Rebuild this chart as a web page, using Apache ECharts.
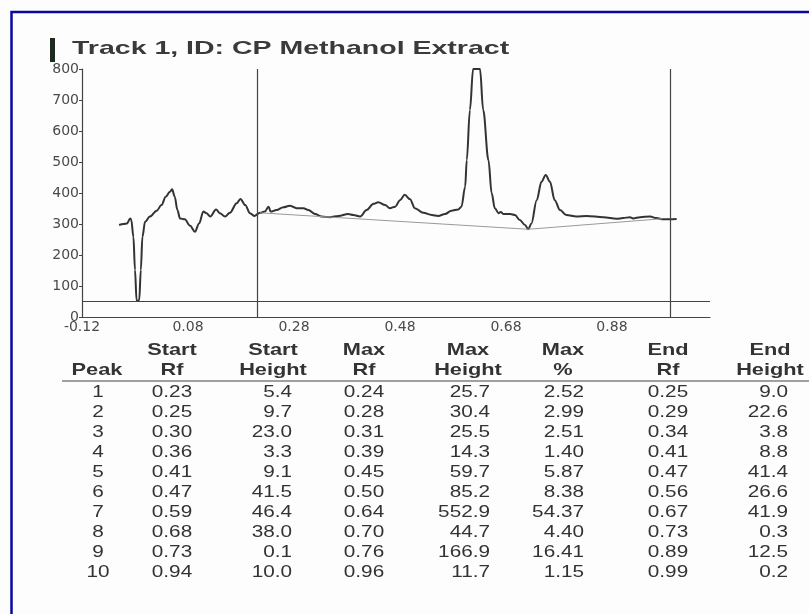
<!DOCTYPE html>
<html>
<head>
<meta charset="utf-8">
<script src="https://cdn.jsdelivr.net/npm/echarts@6/dist/echarts.min.js"></script>
<style>
  html, body { margin: 0; padding: 0; background: #fdfdfd; }
  #chart { width: 809px; height: 614px; }
</style>
</head>
<body>
<div id="chart"></div>
<script>
// densitometer trace (Rf, height)
var traceRf = [-0.050, -0.042, -0.035, -0.029, -0.027, -0.023, -0.020, -0.017, -0.015, -0.012, -0.009, -0.006, -0.001,
  0.008, 0.021, 0.030, 0.038, 0.046, 0.050, 0.055, 0.060, 0.065, 0.074, 0.084, 0.093, 0.101, 0.109, 0.115, 0.122,
  0.133, 0.140, 0.150, 0.159, 0.172, 0.179, 0.188, 0.197, 0.205, 0.216, 0.225, 0.232, 0.236, 0.247, 0.260, 0.272,
  0.285, 0.298, 0.307, 0.320, 0.332, 0.348, 0.364, 0.382, 0.392, 0.405, 0.417, 0.430, 0.439, 0.452, 0.461, 0.471,
  0.480, 0.489, 0.499, 0.508, 0.524, 0.540, 0.552, 0.565, 0.577, 0.590, 0.596, 0.603, 0.606, 0.612, 0.618, 0.631,
  0.637, 0.647, 0.653, 0.659, 0.666, 0.670, 0.675, 0.688, 0.697, 0.706, 0.716, 0.722, 0.728, 0.738, 0.747, 0.755,
  0.763, 0.772, 0.782, 0.794, 0.813, 0.832, 0.864, 0.889, 0.901, 0.914, 0.920, 0.933, 0.952, 0.964, 0.977, 1.002];
var traceHeight = [297, 300, 302, 318, 313, 259, 152, 53, 52, 55, 152, 259, 307,
  324, 343, 361, 388, 404, 412, 388, 345, 318, 315, 294, 275, 302, 340, 335, 324,
  347, 335, 324, 336, 367, 381, 361, 335, 326, 336, 340, 356, 340, 345, 354, 359,
  351, 351, 345, 332, 324, 322, 326, 332, 329, 324, 345, 365, 370, 361, 351, 356,
  377, 394, 380, 351, 336, 329, 326, 332, 343, 347, 356, 420, 506, 668, 800, 800,
  668, 506, 399, 351, 335, 339, 332, 332, 329, 313, 297, 283, 302, 377, 436, 458,
  436, 377, 345, 329, 324, 326, 322, 317, 319, 322, 318, 322, 324, 319, 315, 316];

// integration baseline
var baseRf = [0.216, 0.722, 0.975];
var baseHeight = [336, 283, 317];

// start / end markers and the threshold line
var markerRf = [0.215, 0.99];
var thresholdHeight = 50;

var titleText = 'Track 1, ID: CP Methanol Extract';

// peak table
var headTop = ['', 'Start', 'Start', 'Max', 'Max', 'Max', 'End', 'End'];
var headBottom = ['Peak', 'Rf', 'Height', 'Rf', 'Height', '%', 'Rf', 'Height'];
var peakNo = ['1', '2', '3', '4', '5', '6', '7', '8', '9', '10'];
var startRf = ['0.23', '0.25', '0.30', '0.36', '0.41', '0.47', '0.59', '0.68', '0.73', '0.94'];
var startHeight = ['5.4', '9.7', '23.0', '3.3', '9.1', '41.5', '46.4', '38.0', '0.1', '10.0'];
var maxRf = ['0.24', '0.28', '0.31', '0.39', '0.45', '0.50', '0.64', '0.70', '0.76', '0.96'];
var maxHeight = ['25.7', '30.4', '25.5', '14.3', '59.7', '85.2', '552.9', '44.7', '166.9', '11.7'];
var maxPct = ['2.52', '2.99', '2.51', '1.40', '5.87', '8.38', '54.37', '4.40', '16.41', '1.15'];
var endRf = ['0.25', '0.29', '0.34', '0.41', '0.47', '0.56', '0.67', '0.73', '0.89', '0.99'];
var endHeight = ['9.0', '22.6', '3.8', '8.8', '41.4', '26.6', '41.9', '0.3', '12.5', '0.2'];

var tableCols = [peakNo, startRf, startHeight, maxRf, maxHeight, maxPct, endRf, endHeight];
// layout of the table columns (header centre, value anchor, value alignment)
var headX = [97, 172, 273, 364, 468, 563, 668, 770];
var valX = [98, 172, 292, 364, 490, 584, 668, 788];
var valAlign = ['center', 'center', 'right', 'center', 'right', 'right', 'center', 'right'];

var textCol = '#333';
var graphics = [];

graphics.push({
  type: 'rect', silent: true, z: 0,
  shape: { x: 11.5, y: 12, width: 900, height: 700 },
  style: { fill: 'none', stroke: '#0808a0', lineWidth: 2.5 }
});
graphics.push({
  type: 'rect', silent: true,
  shape: { x: 50, y: 38, width: 5, height: 24 },
  style: { fill: '#1e2a20' }
});
graphics.push({
  type: 'text', silent: true, x: 72, y: 49, scaleX: 1.5,
  style: { text: titleText, font: 'bold 19px "Liberation Sans"', fill: '#3a3a3a', align: 'left', verticalAlign: 'middle' }
});

for (var c = 0; c < tableCols.length; c++) {
  if (headTop[c]) {
    graphics.push({
      type: 'text', silent: true, x: headX[c], y: 350, scaleX: 1.28,
      style: { text: headTop[c], font: 'bold 17px "Liberation Sans"', fill: textCol, align: 'center', verticalAlign: 'middle' }
    });
  }
  graphics.push({
    type: 'text', silent: true, x: headX[c], y: 370, scaleX: 1.28,
    style: { text: headBottom[c], font: 'bold 17px "Liberation Sans"', fill: textCol, align: 'center', verticalAlign: 'middle' }
  });
  for (var r = 0; r < tableCols[c].length; r++) {
    graphics.push({
      type: 'text', silent: true, x: valX[c], y: 392 + r * 20, scaleX: 1.22,
      style: { text: tableCols[c][r], font: '17px "Liberation Sans"', fill: textCol, align: valAlign[c], verticalAlign: 'middle' }
    });
  }
}
graphics.push({
  type: 'line', silent: true,
  shape: { x1: 62, y1: 381, x2: 809, y2: 381 },
  style: { stroke: '#444', lineWidth: 1.2 }
});

function zip(xs, ys) {
  var out = [];
  for (var i = 0; i < xs.length; i++) out.push([xs[i], ys[i]]);
  return out;
}

var markData = [];
for (var m = 0; m < markerRf.length; m++) markData.push({ xAxis: markerRf[m] });
markData.push({ yAxis: thresholdHeight });

var axisLabelStyle = { color: '#4a4a4a', fontSize: 14, fontFamily: 'DejaVu Sans' };

var chart = echarts.init(document.getElementById('chart'));
chart.setOption({
  animation: false,
  backgroundColor: '#fdfdfd',
  grid: { left: 82, right: 99, top: 69, bottom: 297 },
  xAxis: {
    type: 'value', min: -0.12, max: 1.065, interval: 0.2,
    axisLine: { onZero: false, lineStyle: { color: '#444', width: 1.2 } },
    axisTick: { show: false },
    splitLine: { show: false },
    axisLabel: Object.assign({ margin: 3, showMaxLabel: false, formatter: function (v) { return v.toFixed(2); } }, axisLabelStyle)
  },
  yAxis: {
    type: 'value', min: 0, max: 800, interval: 100,
    axisLine: { show: true, onZero: false, lineStyle: { color: '#444', width: 1.2 } },
    axisTick: { show: true, length: 3, lineStyle: { color: '#444' } },
    splitLine: { show: false },
    axisLabel: Object.assign({ margin: 3 }, axisLabelStyle)
  },
  series: [
    {
      type: 'line', data: zip(traceRf, traceHeight),
      showSymbol: false, smooth: 0.35, smoothMonotone: 'x',
      lineStyle: { color: '#333', width: 2 },
      markLine: {
        silent: true, symbol: 'none', label: { show: false },
        lineStyle: { color: '#444', type: 'solid', width: 1.2 },
        data: markData
      }
    },
    {
      type: 'line', data: zip(baseRf, baseHeight),
      showSymbol: false,
      lineStyle: { color: '#9a9a9a', width: 1 }
    }
  ],
  graphic: graphics
});
</script>
</body>
</html>
